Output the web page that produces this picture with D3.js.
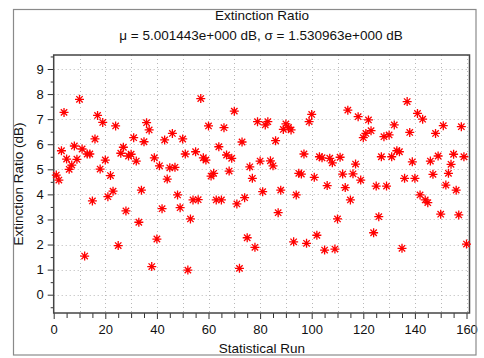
<!DOCTYPE html>
<html>
<head>
<meta charset="utf-8">
<script src="https://cdn.jsdelivr.net/npm/d3@7"></script>
<style>
  html, body { margin: 0; padding: 0; background: #fff; }
  svg { display: block; font-family: Arial, "Liberation Sans", sans-serif; }
</style>
</head>
<body>
<svg id="chart" width="484" height="358"></svg>
<script>
// ---- data ----
const chartTitle = "Extinction Ratio";
const chartSubtitle = "\u03bc = 5.001443e+000 dB, \u03c3 = 1.530963e+000 dB";
const xLabel = "Statistical Run";
const yLabel = "Extinction Ratio (dB)";
const xTickLabels = [0, 20, 40, 60, 80, 100, 120, 140, 160];
const yTickLabels = [0, 1, 2, 3, 4, 5, 6, 7, 8, 9];
const extinctionRatio = [
  4.77, 4.57, 5.74, 7.27, 5.41, 5.00, 5.17, 5.93, 5.40, 7.79,
  5.81, 1.54, 5.61, 5.61, 3.74, 6.21, 7.15, 5.01, 6.87, 5.37,
  3.91, 4.75, 4.13, 6.73, 1.96, 5.64, 5.88, 3.34, 5.53, 5.60,
  6.26, 5.33, 2.89, 4.17, 6.10, 6.86, 6.57, 1.12, 5.46, 2.22,
  5.14, 3.43, 6.17, 4.61, 5.06, 6.43, 5.08, 3.98, 3.47, 6.21,
  5.61, 0.98, 3.02, 3.78, 5.70, 3.79, 7.82, 5.46, 5.37, 6.73,
  4.73, 4.84, 3.78, 5.90, 3.78, 6.66, 5.57, 4.93, 5.44, 7.32,
  3.62, 1.05, 6.09, 3.87, 2.27, 5.10, 4.64, 1.89, 6.90, 5.33,
  4.11, 6.77, 6.90, 5.34, 5.14, 6.14, 3.27, 4.17, 6.59, 6.81,
  6.67, 6.57, 2.11, 3.98, 4.84, 4.81, 5.61, 2.05, 6.90, 7.19,
  4.68, 2.37, 5.50, 5.46, 1.78, 4.35, 5.44, 5.26, 1.82, 3.02,
  5.48, 4.81, 4.27, 7.36, 3.78, 4.82, 5.21, 7.10, 4.57, 6.26,
  6.43, 6.97, 6.54, 2.47, 4.33, 3.11, 5.50, 6.30, 4.33, 6.37,
  5.50, 6.77, 5.74, 5.70, 1.85, 4.64, 7.70, 6.47, 5.30, 4.64,
  7.23, 3.98, 7.00, 3.78, 3.67, 5.33, 4.80, 6.43, 5.53, 3.21,
  6.74, 4.37, 4.84, 5.20, 5.60, 4.17, 3.18, 6.70, 5.50, 2.02
];
const runs = extinctionRatio.map((_, i) => i + 1);

// ---- layout ----
const svg = d3.select("#chart");
const plot = { left: 53.7, right: 469.5, top: 55, bottom: 313 };

const x = d3.scaleLinear().domain([0, 160]).range([plot.left, 466.5]);
const y = d3.scaleLinear().domain([0, 9]).range([294.7, 69]);

// plot background
svg.append("rect")
  .attr("x", plot.left).attr("y", plot.top)
  .attr("width", plot.right - plot.left).attr("height", plot.bottom - plot.top)
  .attr("fill", "#fff");

// grid
const grid = svg.append("g").attr("stroke", "#b8b8b8").attr("stroke-width", 1)
  .attr("stroke-dasharray", "1,3");
grid.selectAll("line.h").data(yTickLabels).join("line")
  .attr("x1", plot.left).attr("x2", plot.right)
  .attr("y1", d => Math.round(y(d)) + 0.5).attr("y2", d => Math.round(y(d)) + 0.5);
grid.selectAll("line.v").data(d3.range(10, 161, 10)).join("line")
  .attr("y1", plot.top).attr("y2", plot.bottom)
  .attr("x1", d => Math.round(x(d)) + 0.5).attr("x2", d => Math.round(x(d)) + 0.5);

// axes
const yAxis = d3.axisLeft(y).tickValues(yTickLabels).tickSize(6).tickPadding(4).tickFormat(d3.format("d"));
const yMinor = d3.axisLeft(y).tickValues(d3.range(-0.5, 9.6, 1)).tickSize(3).tickFormat("");
const xAxis = d3.axisBottom(x).tickValues(xTickLabels).tickSize(6).tickPadding(6).tickFormat(d3.format("d"));
const xMinor = d3.axisBottom(x).tickValues(d3.range(5, 160, 5).filter(v => v % 20 !== 0)).tickSize(5).tickFormat("");

function styleAxis(g) {
  g.select(".domain").remove();
  g.selectAll(".tick line").attr("stroke", "#333").attr("stroke-width", 1);
  g.selectAll(".tick text").attr("fill", "#111").style("font-size", "13px")
    .style("font-family", "Arial, 'Liberation Sans', sans-serif");
}
svg.append("g").attr("transform", `translate(${plot.left},0)`).call(yAxis).call(styleAxis);
svg.append("g").attr("transform", `translate(${plot.left},0)`).call(yMinor).call(styleAxis);
svg.append("g").attr("transform", `translate(0,${plot.bottom})`).call(xAxis).call(styleAxis);
svg.append("g").attr("transform", `translate(0,${plot.bottom})`).call(xMinor).call(styleAxis);

// plot box
svg.append("rect")
  .attr("x", plot.left).attr("y", plot.top)
  .attr("width", plot.right - plot.left).attr("height", plot.bottom - plot.top)
  .attr("fill", "none").attr("stroke", "#444").attr("stroke-width", 1.5);

// markers (asterisks)
const r = 4.5, rd = 3.2;
const star = `M${-r},0L${r},0M0,${-r}L0,${r}M${-rd},${-rd}L${rd},${rd}M${-rd},${rd}L${rd},${-rd}`;
svg.append("g").selectAll("path").data(runs).join("path")
  .attr("transform", (d, i) => `translate(${x(d)},${y(extinctionRatio[i])})`)
  .attr("d", star)
  .attr("fill", "none").attr("stroke", "#ff0000").attr("stroke-width", 1.3);

// titles
svg.append("text").attr("x", 262).attr("y", 20).attr("text-anchor", "middle")
  .style("font-size", "13.5px").attr("fill", "#111").text(chartTitle);
svg.append("text").attr("x", 261).attr("y", 40).attr("text-anchor", "middle")
  .style("font-size", "13.5px").attr("fill", "#111").text(chartSubtitle);
svg.append("text").attr("x", 262).attr("y", 353).attr("text-anchor", "middle")
  .style("font-size", "13.5px").attr("fill", "#111").text(xLabel);
svg.append("text").attr("transform", "translate(23,184) rotate(-90)")
  .attr("text-anchor", "middle").style("font-size", "13.5px").attr("fill", "#111").text(yLabel);

// clip below the outer frame, then the frame itself
svg.append("rect").attr("x", 0).attr("y", 356).attr("width", 484).attr("height", 2).attr("fill", "#fff");
svg.append("rect")
  .attr("x", 13.5).attr("y", 9.5).attr("width", 462.5).attr("height", 345.5)
  .attr("fill", "none").attr("stroke", "#8a8a8a").attr("stroke-width", 1.2);
</script>
</body>
</html>
